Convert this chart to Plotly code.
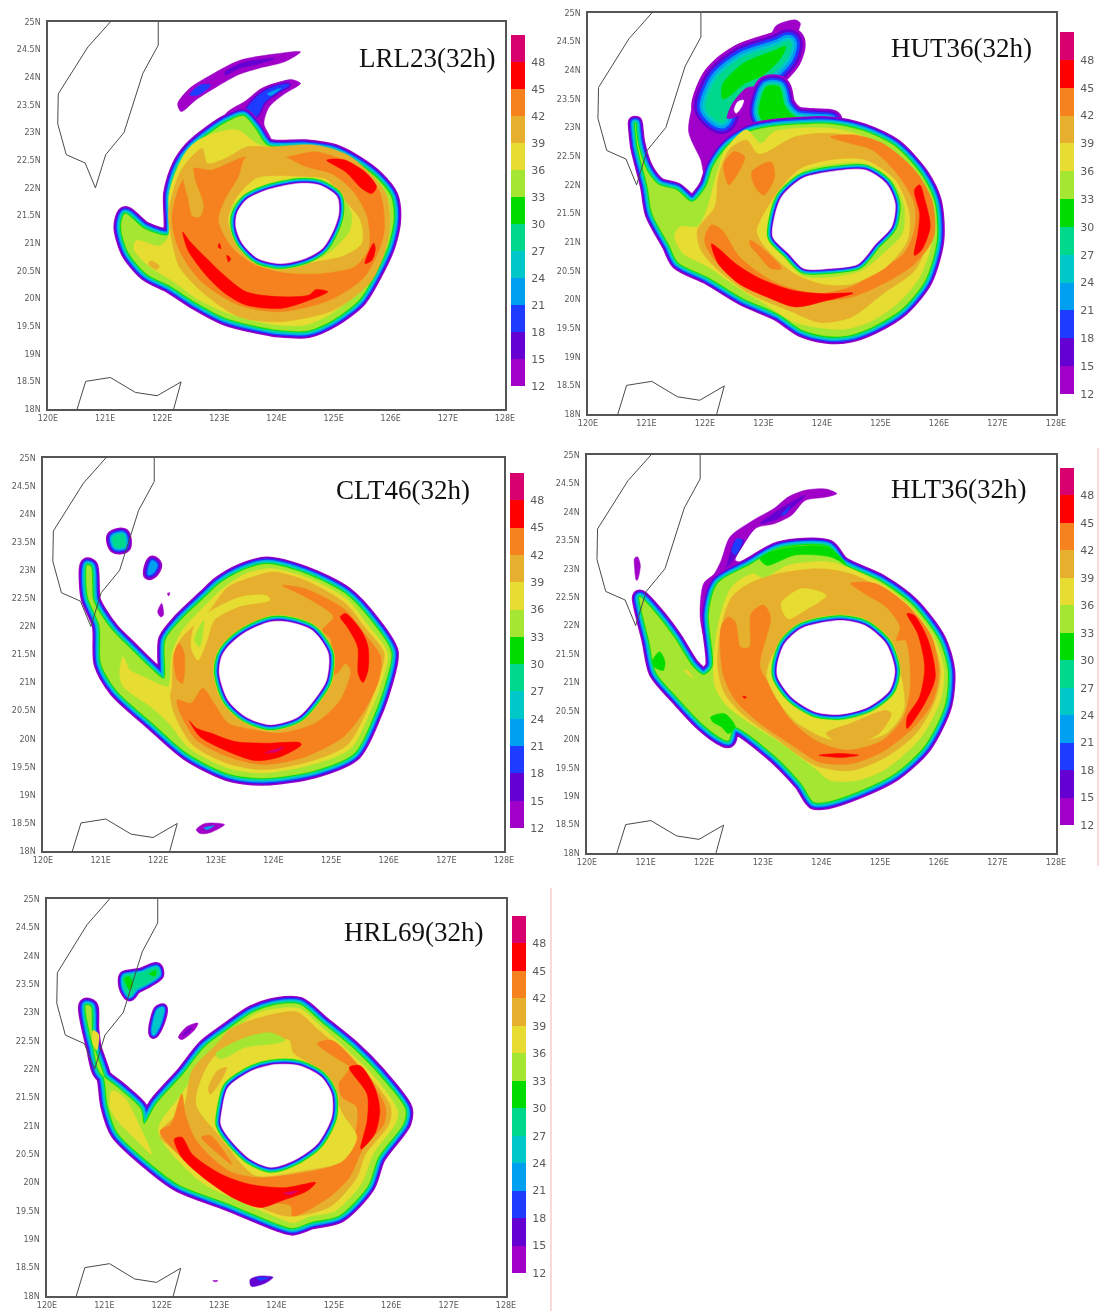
import plotly.graph_objects as go

W, H = 1099, 1311

LEVELS = [12, 15, 18, 21, 24, 27, 30, 33, 36, 39, 42, 45, 48]
COLORS = ["#a000c8", "#6400d2", "#1e3cff", "#00a0f0", "#00c8c8", "#00d88c", "#00dc00",
          "#a5e632", "#e6dc32", "#e6af2d", "#f5821e", "#ff0000", "#d8006e"]
LON_TICKS = [120, 121, 122, 123, 124, 125, 126, 127, 128]
LON_LABELS = ["120E", "121E", "122E", "123E", "124E", "125E", "126E", "127E", "128E"]
LAT_TICKS = [18, 18.5, 19, 19.5, 20, 20.5, 21, 21.5, 22, 22.5, 23, 23.5, 24, 24.5, 25]
LAT_LABELS = ["18N", "18.5N", "19N", "19.5N", "20N", "20.5N", "21N", "21.5N", "22N", "22.5N",
              "23N", "23.5N", "24N", "24.5N", "25N"]

TAIWAN = [(121.09, 25), (120.7, 24.55), (120.18, 23.7), (120.17, 23.16), (120.32, 22.6), (120.65, 22.45),
          (120.83, 22.0), (121.01, 22.6), (121.33, 23.0), (121.66, 24.07), (121.93, 24.58), (121.93, 25)]
LUZON = [(120.51, 18), (120.66, 18.5), (121.09, 18.57), (121.53, 18.3), (121.91, 18.24), (122.33, 18.49), (122.2, 18)]

# ---------- LRL23 ----------
L_streak = [(122.27,23.52),(122.48,23.8),(122.85,24.04),(123.34,24.3),(123.96,24.42),(124.42,24.46),(124.14,24.28),(123.71,24.17),(123.34,24.05),(122.97,23.84),(122.6,23.6),(122.33,23.38)]
L_streak_a = [(123.1,24.1),(123.47,24.28),(123.96,24.34),(123.71,24.25),(123.34,24.16),(123.1,24.04)]
L_streak_b = [(122.48,23.68),(122.66,23.86),(122.85,23.86),(122.63,23.68)]
L_spur = [(123.1,23.31),(123.47,23.58),(123.74,23.8),(124.08,23.92),(124.26,23.96),(124.42,23.89),(124.14,23.7),(123.87,23.46),(123.78,23.16),(123.9,22.86),(123.47,22.86)]
L_spur_b = [(123.48,23.36),(123.62,23.58),(123.9,23.78),(124.2,23.86),(124.05,23.78),(123.76,23.55),(123.64,23.32)]
L_spur_c = [(123.84,23.7),(124.08,23.8),(123.9,23.67)]
L_core = [(123.42,23.30),(123.62,23.08),(123.85,22.76),(124.5,22.74),(125.0,22.66),(125.4,22.45),(125.75,22.18),(126.0,21.85),(126.05,21.45),(125.95,20.95),(125.75,20.5),(125.45,19.98),(125.0,19.62),(124.55,19.42),(124.05,19.43),(123.65,19.5),(123.1,19.65),(122.6,19.92),(122.15,20.22),(121.72,20.45),(121.4,20.85),(121.28,21.3),(121.35,21.53),(121.7,21.25),(122.12,21.15),(122.15,21.9),(122.3,22.4),(122.5,22.7),(122.85,23.0),(123.15,23.2)]
L_36 = [(122.7,22.9),(123.3,23.05),(123.7,22.78),(124.5,22.68),(125.0,22.6),(125.4,22.38),(125.7,22.12),(125.95,21.8),(125.98,21.45),(125.88,20.95),(125.68,20.5),(125.35,20.05),(124.95,19.72),(124.5,19.52),(124.0,19.52),(123.6,19.6),(123.1,19.75),(122.6,20.0),(122.2,20.3),(121.75,20.6),(121.5,20.9),(121.55,21.05),(121.95,20.95),(122.1,21.1),(122.12,21.9),(122.28,22.4),(122.45,22.7)]
L_39 = [(122.7,22.71),(122.79,22.44),(123.16,22.56),(123.47,22.74),(123.89,22.74),(124.69,22.77),(125.3,22.56),(125.91,21.9),(125.97,21.17),(125.67,20.33),(125.0,19.79),(124.07,19.58),(123.34,19.67),(122.73,20.09),(122.3,20.57),(122.17,21.05),(122.11,21.54),(122.3,22.26),(122.51,22.56)]
L_spot = [(121.8,20.68),(121.95,20.58),(121.9,20.52),(121.76,20.62)]
L_42 = [(124.2,22.56),(124.69,22.65),(125.3,22.44),(125.79,21.96),(125.88,21.17),(125.54,20.39),(124.93,19.97),(124.07,19.76),(123.34,19.88),(122.66,20.33),(122.3,20.87),(122.17,21.42),(122.3,22.02),(122.54,22.35),(122.85,22.32),(123.46,22.56),(123.9,22.5)]
L_in39 = [(123.47,22.56),(124.13,22.56),(124.5,22.38),(125.0,22.23),(125.34,21.93),(125.58,21.48),(125.61,20.91),(125.37,20.58),(124.69,20.45),(124.08,20.48),(123.59,20.63),(123.22,20.93),(122.99,21.41),(123.1,21.78),(123.34,22.2)]
L_left39 = [(122.53,22.35),(122.57,22.15),(122.72,21.68),(122.66,21.48),(122.53,21.49),(122.46,21.79),(122.38,22.2)]
L_in36 = [(123.65,22.17),(124.39,22.2),(124.88,22.14),(125.12,21.84),(125.46,21.42),(125.49,21.0),(125.18,20.78),(124.69,20.67),(124.08,20.58),(123.71,20.63),(123.34,20.93),(123.16,21.41),(123.28,21.78)]
L_in33 = [(123.4,21.84),(123.83,22.05),(124.39,22.17),(124.88,22.11),(125.15,21.84),(125.31,21.53),(125.28,21.23),(125.0,20.9),(124.69,20.69),(124.08,20.58),(123.68,20.66),(123.34,20.93),(123.19,21.29),(123.22,21.66)]
L_red1 = [(122.36,21.2),(122.45,20.87),(122.79,20.39),(123.1,20.09),(123.47,19.88),(124.08,19.82),(124.5,19.94),(124.9,20.12),(124.69,20.16),(124.57,20.06),(124.08,20.03),(123.47,20.12),(123.05,20.45),(122.78,20.72),(122.47,21.05)]
L_red2 = [(124.88,22.5),(125.18,22.51),(125.55,22.29),(125.75,22.02),(125.67,21.9),(125.49,21.99),(125.21,22.29)]
L_red3 = [(125.55,20.63),(125.7,21.0),(125.73,20.9),(125.67,20.69)]
L_red4 = [(123.0,21.0),(122.98,20.93),(123.03,20.9)]
L_red5 = [(123.13,20.78),(123.2,20.72),(123.16,20.66)]
L_eye = [(123.31,21.54),(123.47,21.78),(123.83,21.96),(124.39,22.08),(124.75,22.05),(125.06,21.84),(125.09,21.54),(125.0,21.24),(124.81,20.91),(124.5,20.72),(124.08,20.63),(123.68,20.72),(123.4,21.0),(123.29,21.29)]
LRL23_OPS = [("fill",12,L_streak),("fill",15,L_streak_a),("fill",18,L_streak_b),("fill",12,L_spur),("halo",18,L_spur_b,1.6),("fill",18,L_spur_b),("fill",21,L_spur_c),
             ("halo",30,L_core,1.1),("fill",33,L_core),("fill",36,L_36),("fill",39,L_39),("fill",39,L_spot),("fill",42,L_42),("fill",39,L_in39),("fill",39,L_left39),
             ("fill",36,L_in36),("fill",33,L_in33),("fill",45,L_red1),("fill",45,L_red2),("fill",45,L_red3),("fill",45,L_red4),("fill",45,L_red5),("eye",L_eye)]

# ---------- HUT36 ----------
U_blob = [(123.1,24.59),(123.22,24.78),(123.54,24.88),(123.63,24.82),(123.57,24.59),(123.63,24.39),(123.49,24.1),(123.34,23.92),(123.43,23.42),(123.54,23.25),(123.07,22.9),(122.35,22.78),(122.17,22.43),(121.99,22.2),(121.93,22.43),(121.72,22.93),(121.81,23.48),(121.93,23.86),(122.23,24.24),(122.71,24.5)]
U_green = [(122.05,23.37),(122.23,23.83),(122.65,24.18),(123.25,24.39),(123.43,24.47),(123.37,24.24),(123.07,23.92),(122.71,23.72),(122.41,23.42),(122.29,23.13),(122.11,23.25)]
U_green_c = [(122.3,23.75),(122.65,24.12),(123.2,24.35),(123.38,24.42),(123.3,24.22),(123.0,23.92),(122.65,23.75),(122.42,23.55),(122.3,23.5)]
U_green2 = [(123.07,23.69),(123.25,23.69),(123.34,23.37),(123.54,23.16),(124.14,23.1),(123.54,23.02),(123.13,22.99),(122.95,23.25)]
U_hole = [(122.38,23.16),(122.47,23.42),(122.71,23.69),(122.86,23.7),(122.81,23.48),(122.59,23.22)]
U_white = [(122.5,23.31),(122.56,23.45),(122.66,23.48),(122.63,23.37),(122.53,23.25)]
U_core = [(120.81,23.07),(120.85,22.72),(121.0,22.26),(121.21,22.0),(121.51,21.91),(121.78,21.7),(122.02,21.97),(122.14,22.32),(122.38,22.67),(122.77,22.93),(123.19,23.02),(124.14,23.06),(124.71,22.94),(125.25,22.67),(125.7,22.17),(125.92,21.7),(125.96,21.03),(125.76,20.33),(125.37,19.84),(124.86,19.52),(124.44,19.37),(124.08,19.36),(123.66,19.47),(123.25,19.75),(122.65,20.02),(122.05,20.39),(121.54,20.65),(121.39,20.95),(121.1,21.5),(121.02,21.97),(120.85,22.67)]
U_36 = [(121.87,21.27),(122.05,21.62),(122.17,22.08),(122.35,22.61),(122.71,22.96),(122.95,22.72),(123.19,22.93),(124.14,22.99),(124.74,22.84),(125.25,22.52),(125.64,22.08),(125.85,21.62),(125.88,21.03),(125.67,20.39),(125.28,19.92),(124.8,19.6),(124.44,19.49),(124.08,19.49),(123.54,19.6),(123.07,19.89),(122.59,20.19),(122.05,20.57),(121.63,20.8),(121.48,21.09),(121.57,21.27)]
U_39 = [(121.87,21.21),(122.17,21.62),(122.23,22.14),(122.41,22.61),(122.71,22.78),(122.89,22.55),(123.01,22.55),(123.54,22.84),(124.14,22.9),(124.74,22.78),(125.22,22.43),(125.58,22.02),(125.76,21.5),(125.79,20.97),(125.58,20.5),(125.04,20.1),(124.5,19.69),(123.96,19.6),(123.43,19.81),(122.77,20.1),(122.23,20.51),(121.93,20.86)]
U_in36 = [(122.89,21.21),(123.19,21.79),(123.6,22.26),(124.14,22.43),(124.74,22.43),(125.25,22.08),(125.49,21.5),(125.46,21.03),(125.1,20.57),(124.5,20.27),(124.02,20.27),(123.54,20.45),(123.19,20.74),(122.95,21.03)]
U_in33 = [(123.1,21.21),(123.25,21.85),(123.66,22.23),(124.14,22.35),(124.74,22.37),(125.19,22.08),(125.4,21.62),(125.37,21.15),(125.04,20.8),(124.68,20.51),(124.14,20.39),(123.66,20.42),(123.34,20.74),(123.1,21.03)]
U_42 = [(124.14,22.84),(124.56,22.87),(125.04,22.72),(125.58,22.26),(125.88,21.73),(125.91,21.09),(125.58,20.62),(125.04,20.27),(124.5,20.04),(124.02,19.98),(123.25,19.98),(122.59,20.27),(122.17,20.68),(121.99,21.03),(122.11,21.3),(122.29,21.21),(122.59,20.74),(123.19,20.3),(123.9,20.1),(124.5,20.22),(124.98,20.51),(125.4,20.8),(125.58,21.21),(125.58,21.67),(125.28,22.2),(124.86,22.61),(124.5,22.72)]
U_p1 = [(122.32,22.37),(122.5,22.58),(122.68,22.49),(122.62,22.31),(122.41,22.0)]
U_p2 = [(122.8,22.23),(123.13,22.4),(123.19,22.14),(123.01,21.82),(122.86,21.96)]
U_p3 = [(122.77,21.03),(122.95,20.92),(123.31,20.54),(123.13,20.54),(122.89,20.8),(122.77,20.95)]
U_red1 = [(122.11,20.97),(122.23,20.62),(122.59,20.27),(123.07,20.04),(123.54,19.87),(124.08,19.98),(124.53,20.11),(124.02,20.1),(123.49,20.16),(122.95,20.36),(122.53,20.62),(122.23,20.89)]
U_red2 = [(125.58,21.91),(125.67,22.0),(125.76,21.73),(125.85,21.27),(125.7,20.86),(125.58,20.77),(125.64,21.15),(125.67,21.5)]
U_eye = [(123.19,21.44),(123.31,21.79),(123.66,22.11),(124.14,22.23),(124.74,22.26),(125.1,22.02),(125.25,21.67),(125.19,21.27),(124.92,20.97),(124.62,20.62),(124.14,20.54),(123.69,20.54),(123.43,20.8),(123.16,21.09)]
HUT36_OPS = [("fill",12,U_blob),("halo",27,U_green,2.8),("fill",27,U_green),("fill",30,U_green_c),("fill",12,U_hole),("white",U_white),("halo",30,U_green2,1.8),("fill",30,U_green2),
             ("halo",30,U_core,1.1),("fill",33,U_core),("fill",36,U_36),("fill",39,U_39),("fill",42,U_42),("fill",42,U_p1),("fill",36,U_in36),("fill",42,U_p2),("fill",42,U_p3),("fill",33,U_in33),
             ("fill",45,U_red1),("fill",45,U_red2),("eye",U_eye)]

# ---------- CLT46 ----------
C_b1 = [(121.23,23.58),(121.38,23.62),(121.4,23.44),(121.27,23.43)]
C_b2c = [(121.84,22.94),(121.9,23.15),(121.96,23.09),(121.9,22.97)]
C_b3 = [(121.99,22.26),(122.06,22.41),(122.09,22.2),(122.04,22.17)]
C_b4 = [(122.16,22.59),(122.2,22.6),(122.18,22.54)]
C_b5 = [(122.66,18.38),(122.81,18.49),(123.15,18.47),(122.91,18.33),(122.73,18.31)]
C_b5c = [(122.79,18.41),(122.97,18.45),(122.85,18.38)]
C_core = [(120.77,23.09),(120.83,23.06),(120.87,22.47),(120.99,22.23),(121.2,21.93),(121.51,21.61),(121.87,21.25),(122.1,21.07),(122.13,21.76),(122.39,22.11),(122.82,22.53),(123.06,22.76),(123.45,22.99),(123.88,23.11),(124.55,22.94),(125.25,22.58),(125.71,22.08),(126.04,21.54),(125.93,20.96),(125.75,20.44),(125.4,19.74),(124.7,19.43),(123.82,19.3),(123.21,19.38),(122.51,19.74),(121.9,20.28),(121.27,20.87),(121.01,21.34),(120.98,22.02),(120.78,22.53)]
C_36 = [(122.18,20.93),(122.24,21.52),(122.42,21.93),(122.85,22.41),(123.15,22.7),(123.52,22.94),(123.94,23.03),(124.55,22.88),(125.25,22.5),(125.64,22.02),(125.98,21.52),(125.86,20.96),(125.67,20.46),(125.34,19.83),(124.67,19.54),(123.82,19.39),(123.21,19.48),(122.54,19.83),(122.18,20.28),(121.87,20.57),(121.39,20.93),(121.33,21.16),(121.39,21.46),(121.51,21.22),(121.75,21.1),(122.12,20.93)]
C_39 = [(122.24,20.93),(122.27,21.52),(122.42,21.81),(122.85,22.23),(123.21,22.7),(123.64,22.88),(124.0,22.97),(124.55,22.82),(125.25,22.41),(125.58,21.99),(125.92,21.52),(125.8,20.99),(125.61,20.48),(125.28,19.89),(124.61,19.59),(123.82,19.45),(123.21,19.56),(122.6,19.89),(122.3,20.39),(122.21,20.75)]
C_42 = [(124.15,22.73),(124.55,22.67),(125.25,22.29),(125.58,21.87),(125.86,21.46),(125.83,21.05),(125.58,20.51),(125.22,20.04),(124.55,19.68),(123.82,19.54),(123.21,19.68),(122.66,19.98),(122.36,20.51),(122.33,20.69),(122.57,20.63),(122.77,20.9),(122.97,20.63),(123.21,20.28),(123.64,20.16),(124.12,20.1),(124.73,20.28),(125.16,20.69),(125.34,21.22),(125.25,21.34),(125.1,21.16),(124.95,21.13),(125.0,21.76),(124.85,21.93),(125.04,22.17),(124.55,22.53)]
C_42l = [(122.36,21.7),(122.45,21.52),(122.42,20.99),(122.33,21.05),(122.27,21.46)]
C_in36 = [(122.57,21.64),(122.66,22.08),(123.15,22.41),(123.45,22.53),(123.88,22.55),(123.94,22.47),(123.39,22.35),(122.97,22.11),(122.85,21.76),(122.69,21.4)]
C_in33 = [(122.63,21.76),(122.79,22.11),(122.72,21.64)]
C_red1 = [(122.54,20.32),(122.72,20.04),(123.15,19.8),(123.69,19.61),(124.12,19.68),(124.48,19.89),(124.46,19.93),(123.88,19.92),(123.33,19.95),(122.91,20.1),(122.66,20.19)]
C_red2 = [(125.16,22.17),(125.25,22.23),(125.52,21.93),(125.64,21.64),(125.64,21.22),(125.55,21.0),(125.47,21.16),(125.46,21.64),(125.28,21.99)]
C_mag = [(123.85,19.75),(124.18,19.85),(124.06,19.77)]
C_eye = [(123.1,21.46),(123.21,21.64),(123.52,21.9),(123.94,22.08),(124.25,22.08),(124.67,21.93),(124.95,21.52),(124.92,21.05),(124.79,20.81),(124.43,20.39),(123.94,20.25),(123.52,20.39),(123.21,20.69),(123.06,21.16)]
CLT46_OPS = [("halo",27,C_b1,1.3),("fill",27,C_b1),("halo",21,C_b2c,1.6),("fill",21,C_b2c),("fill",12,C_b3),("fill",12,C_b4),("fill",12,C_b5),("fill",21,C_b5c),
             ("halo",30,C_core,1.1),("fill",33,C_core),("fill",36,C_36),("fill",39,C_39),("fill",42,C_42),("fill",42,C_42l),("fill",36,C_in36),("fill",33,C_in33),
             ("fill",45,C_red1),("fill",45,C_red2),("fill",48,C_mag),("eye",C_eye)]

# ---------- HLT36 ----------
T_streak = [(124.26,24.32),(124.08,24.26),(123.72,24.2),(123.49,23.94),(123.19,23.79),(122.89,23.72),(122.68,23.44),(122.53,23.15),(122.68,23.09),(122.29,22.8),(122.17,22.5),(122.02,21.74),(121.93,22.15),(121.99,22.74),(122.17,22.91),(122.29,23.15),(122.44,23.56),(122.83,23.85),(123.19,24.06),(123.43,24.26),(123.72,24.38),(124.08,24.4)]
T_s15a = [(122.95,23.79),(123.31,24.06),(123.72,24.29),(123.55,24.12),(123.25,23.88)]
T_s15b = [(122.35,22.91),(122.53,23.5),(122.68,23.5),(122.53,23.2),(122.35,22.97)]
T_s18a = [(122.47,23.32),(122.56,23.53),(122.65,23.5),(122.53,23.24)]
T_s18b = [(123.31,23.94),(123.46,24.1),(123.4,23.97)]
T_arm = [(120.81,23.18),(120.86,23.21),(120.91,23.06),(120.86,22.8),(120.84,22.8),(120.81,23.04)]
T_core = [(120.9,22.5),(121.15,22.24),(121.48,21.8),(121.81,21.27),(121.99,21.13),(122.14,21.27),(122.08,22.21),(122.23,22.74),(122.77,23.06),(123.28,23.35),(124.11,23.38),(124.35,23.09),(125.01,22.77),(125.55,22.36),(126.0,21.74),(126.15,21.21),(126.1,20.6),(125.76,19.89),(125.25,19.4),(124.59,19.07),(124.08,18.9),(123.87,18.9),(123.66,19.22),(123.16,19.75),(122.5,20.22),(122.41,19.98),(122.26,20.04),(121.96,20.28),(121.54,20.74),(121.18,21.18),(121.06,21.74),(120.92,22.33)]
T_g1 = [(121.12,21.39),(121.24,21.54),(121.33,21.36),(121.3,21.21),(121.15,21.27)]
T_g2 = [(122.95,23.18),(123.31,23.35),(124.11,23.38),(124.41,23.09),(124.14,23.21),(123.55,23.24),(123.07,23.06)]
T_g3 = [(122.11,20.39),(122.35,20.45),(122.53,20.22),(122.41,20.1),(122.29,20.22),(122.14,20.31)]
T_36 = [(122.17,20.98),(122.23,21.98),(122.47,22.68),(122.83,22.91),(123.01,22.83),(123.43,23.06),(124.14,23.12),(124.5,23.0),(125.1,22.68),(125.58,22.27),(125.94,21.74),(126.09,21.21),(126.03,20.69),(125.7,20.04),(125.1,19.48),(124.62,19.28),(124.14,19.28),(123.9,19.48),(123.25,19.98),(122.71,20.33),(122.35,20.63)]
T_spot = [(121.66,21.21),(121.81,21.07),(121.72,21.21)]
T_39 = [(122.23,21.27),(122.29,21.98),(122.47,22.5),(122.77,22.74),(123.25,22.91),(123.96,23.0),(124.5,22.91),(125.1,22.59),(125.55,22.18),(125.88,21.74),(126.03,21.21),(125.94,20.69),(125.61,20.1),(125.1,19.69),(124.5,19.45),(123.9,19.54),(123.19,20.04),(122.71,20.39),(122.35,20.8)]
T_42 = [(124.5,22.74),(124.92,22.74),(125.46,22.36),(125.88,21.8),(126.0,21.15),(125.88,20.63),(125.58,20.22),(125.04,19.78),(124.5,19.57),(123.96,19.6),(123.54,19.87),(122.95,20.28),(122.53,20.69),(122.32,21.15),(122.29,21.98),(122.41,22.15),(122.53,22.06),(122.62,21.62),(122.77,21.62),(122.8,22.21),(123.01,22.36),(123.13,22.15),(122.95,21.27),(123.19,20.86),(123.43,20.39),(123.9,19.98),(124.44,19.81),(125.04,19.98),(125.4,20.39),(125.52,20.98),(125.43,21.74),(125.28,21.74),(125.34,21.98),(125.1,22.33),(124.74,22.56)]
T_up36 = [(123.31,22.39),(123.67,22.65),(124.08,22.53),(123.72,22.27),(123.43,22.12)]
T_in36 = [(123.13,21.39),(123.49,21.92),(124.32,22.12),(124.86,21.98),(125.19,21.51),(125.37,21.04),(125.4,20.51),(125.1,20.1),(124.5,19.95),(124.02,20.04),(123.54,20.33),(123.25,20.69),(123.07,21.1)]
T_in39 = [(124.08,20.1),(124.5,20.28),(125.1,20.51),(125.19,20.45),(124.98,20.1),(124.44,19.89)]
T_red1 = [(125.46,22.21),(125.58,22.18),(125.82,21.74),(125.94,21.09),(125.76,20.63),(125.46,20.19),(125.46,20.39),(125.67,20.74),(125.76,21.27),(125.64,21.86)]
T_red2 = [(123.96,19.72),(124.32,19.75),(124.63,19.72),(124.32,19.68)]
T_red3 = [(122.66,20.76),(122.72,20.74),(122.68,20.72)]
T_eye = [(123.25,21.33),(123.37,21.68),(123.66,21.95),(124.32,22.09),(124.74,22.0),(125.1,21.68),(125.25,21.21),(125.16,20.86),(124.8,20.57),(124.32,20.44),(123.9,20.48),(123.49,20.74),(123.25,21.1)]
HLT36_OPS = [("fill",12,T_streak),("fill",15,T_s15a),("fill",15,T_s15b),("fill",18,T_s18a),("fill",18,T_s18b),("fill",12,T_arm),
             ("halo",30,T_core,1.1),("fill",33,T_core),("fill",30,T_g1),("fill",30,T_g2),("fill",30,T_g3),("fill",36,T_36),("fill",36,T_spot),("fill",39,T_39),("fill",42,T_42),
             ("fill",36,T_up36),("fill",36,T_in36),("fill",39,T_in39),("fill",45,T_red1),("fill",45,T_red2),("fill",45,T_red3),("eye",T_eye)]

# ---------- HRL69 ----------
R_b1c = [(121.35,23.63),(121.5,23.66),(121.66,23.69),(121.91,23.78),(121.94,23.67),(121.76,23.54),(121.54,23.42),(121.44,23.3),(121.35,23.45)]
R_b1g = [(121.35,23.6),(121.44,23.63),(121.5,23.5),(121.44,23.4)]
R_b1h = [(121.78,23.68),(121.9,23.74),(121.88,23.64)]
R_b2c = [(121.85,22.71),(121.94,23.04),(122.02,23.07),(121.96,22.8),(121.86,22.62)]
R_b3 = [(122.29,22.56),(122.44,22.75),(122.63,22.81),(122.57,22.69),(122.35,22.52)]
R_b3c = [(122.36,22.6),(122.52,22.74),(122.44,22.63)]
R_b4 = [(123.54,18.29),(123.69,18.35),(123.94,18.33),(123.81,18.23),(123.56,18.17)]
R_b4c = [(123.65,18.32),(123.87,18.32),(123.72,18.27)]
R_b5 = [(122.89,18.27),(122.98,18.27),(122.93,18.25)]
R_core = [(120.68,23.12),(120.76,23.1),(120.78,22.68),(120.92,21.95),(121.26,21.65),(121.63,21.3),(121.69,21.03),(121.91,21.39),(122.38,21.92),(122.75,22.39),(123.13,22.68),(123.59,23.0),(124.03,23.14),(124.4,23.14),(124.81,22.8),(125.31,22.39),(125.77,21.92),(126.24,21.3),(126.22,21.06),(125.77,20.44),(125.59,19.94),(125.09,19.42),(124.62,19.31),(124.28,19.2),(124.03,19.27),(123.16,19.63),(122.29,19.97),(121.76,20.37),(121.23,20.88),(121.06,21.36),(121.0,21.83),(120.78,22.51)]
R_tail = [(121.13,21.62),(121.35,21.5),(121.6,21.03),(121.82,20.5),(121.57,20.74),(121.23,21.09),(121.1,21.33)]
R_arm = [(120.8,22.68),(120.9,22.62),(120.87,22.33),(120.8,22.45)]
R_36 = [(121.94,20.91),(122.35,21.56),(122.85,22.27),(123.16,22.59),(123.65,22.98),(124.03,23.07),(124.4,23.07),(124.78,22.75),(125.27,22.3),(125.71,21.86),(126.11,21.27),(126.08,21.06),(125.68,20.5),(125.49,20.0),(125.02,19.5),(124.59,19.41),(124.28,19.29),(124.03,19.38),(123.34,19.68),(122.66,20.03)]
R_39 = [(122.0,20.94),(122.38,21.33),(122.53,21.98),(122.97,22.45),(123.16,22.68),(123.65,22.89),(124.34,23.01),(124.71,22.71),(125.15,22.33),(125.65,21.83),(125.99,21.33),(125.96,21.03),(125.55,20.5),(125.4,20.09),(124.96,19.59),(124.53,19.44),(124.15,19.41),(123.47,19.68),(122.66,20.15),(122.16,20.62),(121.97,20.8)]
R_42 = [(124.71,22.45),(124.96,22.51),(125.46,22.03),(125.9,21.33),(125.87,21.03),(125.52,20.62),(125.27,20.09),(124.9,19.73),(124.28,19.41),(124.25,19.59),(123.53,19.68),(122.85,20.09),(122.29,20.5),(121.97,20.91),(122.16,21.03),(122.35,21.56),(122.41,21.21),(122.6,20.74),(123.16,20.21),(123.65,20.09),(124.34,20.15),(125.09,20.35),(125.34,20.74),(125.4,21.33),(125.15,21.5),(125.09,21.74),(125.27,22.03),(125.02,22.21)]
R_in36 = [(122.91,22.21),(123.65,22.45),(124.22,22.51),(124.28,22.3),(124.65,22.03),(125.02,21.5),(125.15,21.21),(125.4,20.8),(125.15,20.38),(124.46,20.21),(123.65,20.12),(123.4,20.32),(123.03,20.8),(122.6,21.39)]
R_in33 = [(122.94,22.27),(123.47,22.56),(123.9,22.64),(124.15,22.51),(123.97,22.45),(123.47,22.39),(123.03,22.18)]
R_p39 = [(122.81,21.65),(122.97,21.97),(123.13,22.03),(123.03,21.8),(122.85,21.56)]
R_lobe = [(122.69,20.8),(122.85,20.83),(123.22,20.32),(123.03,20.47)]
R_red1 = [(122.22,20.77),(122.35,20.8),(122.53,20.5),(123.03,20.15),(123.53,19.97),(124.15,19.91),(124.68,20.0),(124.53,19.85),(124.09,19.68),(123.72,19.56),(123.28,19.71),(122.72,20.09),(122.35,20.44)]
R_red2 = [(125.27,22.03),(125.46,22.06),(125.71,21.68),(125.8,21.27),(125.71,20.85),(125.47,20.59),(125.58,21.09),(125.58,21.56)]
R_mag = [(124.12,19.81),(124.37,19.85),(124.25,19.79)]
R_eye = [(123.05,21.27),(123.16,21.68),(123.59,21.98),(123.97,22.08),(124.4,22.06),(124.78,21.86),(124.96,21.56),(124.96,21.15),(124.71,20.68),(124.28,20.38),(123.9,20.27),(123.53,20.42),(123.16,20.8),(123.03,21.03)]
HRL69_OPS = [("halo",27,R_b1c,1.0),("fill",27,R_b1c),("fill",30,R_b1g),("fill",30,R_b1h),("halo",24,R_b2c,1.0),("fill",24,R_b2c),("fill",12,R_b3),("fill",15,R_b3c),("fill",15,R_b4),("fill",18,R_b4c),("fill",12,R_b5),
             ("halo",30,R_core,1.1),("fill",33,R_core),("fill",36,R_tail),("fill",36,R_arm),("fill",36,R_36),("fill",39,R_39),("fill",42,R_42),("fill",36,R_in36),("fill",33,R_in33),("fill",39,R_p39),("fill",42,R_lobe),
             ("fill",45,R_red1),("fill",45,R_red2),("fill",48,R_mag),("eye",R_eye)]

PANELS = [
    dict(name="LRL23(32h)", ops=LRL23_OPS, box=(48, 505, 22, 409), bar=(511, 525, 35, 386), title=(357, 58)),
    dict(name="HUT36(32h)", ops=HUT36_OPS, box=(588, 1056, 13, 414), bar=(1060, 1074, 32, 394), title=(889, 48)),
    dict(name="CLT46(32h)", ops=CLT46_OPS, box=(43, 504, 458, 851), bar=(510, 524, 473, 828), title=(334, 490)),
    dict(name="HLT36(32h)", ops=HLT36_OPS, box=(587, 1056, 455, 853), bar=(1060, 1074, 468, 825), title=(889, 489)),
    dict(name="HRL69(32h)", ops=HRL69_OPS, box=(47, 506, 899, 1296), bar=(512, 526, 916, 1273), title=(342, 932)),
]

fig = go.Figure()
TEXT = "#5a5a5a"
FRAME = "#555555"


def color(level):
    return COLORS[LEVELS.index(level)]


def closed(poly):
    return [p[0] for p in poly] + [poly[0][0]], [p[1] for p in poly] + [poly[0][1]]


def stroke(poly, col, width, xa, ya):
    x, y = closed(poly)
    fig.add_trace(go.Scatter(x=x, y=y, mode="lines", xaxis=xa, yaxis=ya, hoverinfo="skip", showlegend=False,
                             line=dict(color=col, width=width, shape="spline", smoothing=0.8)))


def fill(poly, col, xa, ya):
    x, y = closed(poly)
    fig.add_trace(go.Scatter(x=x, y=y, mode="lines", fill="toself", fillcolor=col, xaxis=xa, yaxis=ya,
                             hoverinfo="skip", showlegend=False,
                             line=dict(color=col, width=0.5, shape="spline", smoothing=0.8)))


for i, p in enumerate(PANELS):
    n = 2 * i + 1
    xa, ya = f"x{n}", f"y{n}"
    xb, yb = f"x{n + 1}", f"y{n + 1}"
    for op in p["ops"]:
        if op[0] == "fill":
            fill(op[2], color(op[1]), xa, ya)
        elif op[0] == "white":
            fill(op[1], "#ffffff", xa, ya)
        elif op[0] == "halo":
            used = [v for v in LEVELS if v <= op[1]]
            for k, v in enumerate(used):
                stroke(op[2], color(v), 2 * op[3] * (len(used) - k), xa, ya)
        elif op[0] == "eye":
            used = [v for v in LEVELS if v <= 33]
            for k, v in reversed(list(enumerate(used))):
                stroke(op[1], color(v), 1.5 * (k + 1), xa, ya)
            fill(op[1], "#ffffff", xa, ya)
    for coast in (TAIWAN, LUZON):
        fig.add_trace(go.Scatter(x=[c[0] for c in coast], y=[c[1] for c in coast], mode="lines", xaxis=xa, yaxis=ya,
                                 hoverinfo="skip", showlegend=False, line=dict(color="#4a4a4a", width=1)))
    for lev, col in zip(LEVELS, COLORS):
        fig.add_trace(go.Bar(x=[0.5], y=[3], base=[lev], width=[1], xaxis=xb, yaxis=yb, hoverinfo="skip",
                             showlegend=False, marker=dict(color=col, line=dict(width=0))))

    x0, x1, y0, y1 = p["box"]
    bx0, bx1, by0, by1 = p["bar"]
    suffix = "" if n == 1 else str(n)
    fig.layout["xaxis" + suffix] = dict(domain=[x0 / W, x1 / W], range=[120, 128], anchor=ya, tickvals=LON_TICKS,
                                        ticktext=LON_LABELS, ticks="outside", ticklen=1,
                                        tickcolor="rgba(0,0,0,0)", showgrid=False, zeroline=False, showline=True,
                                        mirror=True, linecolor=FRAME, linewidth=1.5,
                                        tickfont=dict(family="DejaVu Sans", size=8, color=TEXT))
    fig.layout["yaxis" + suffix] = dict(domain=[1 - y1 / H, 1 - y0 / H], range=[18, 25], anchor=xa, tickvals=LAT_TICKS,
                                        ticktext=LAT_LABELS, ticks="outside", ticklen=4,
                                        tickcolor="rgba(0,0,0,0)", showgrid=False, zeroline=False, showline=True,
                                        mirror=True, linecolor=FRAME, linewidth=1.5,
                                        tickfont=dict(family="DejaVu Sans", size=8, color=TEXT))
    fig.layout[f"xaxis{n + 1}"] = dict(domain=[bx0 / W, bx1 / W], range=[0, 1], anchor=yb, visible=False)
    fig.layout[f"yaxis{n + 1}"] = dict(domain=[1 - by1 / H, 1 - by0 / H], range=[12, 51], anchor=xb, side="right",
                                       tickvals=LEVELS, ticktext=[str(v) for v in LEVELS], showgrid=False,
                                       zeroline=False, showline=False, ticks="outside", ticklen=3,
                                       tickcolor="rgba(0,0,0,0)",
                                       tickfont=dict(family="DejaVu Sans", size=11, color=TEXT))
    fig.add_annotation(text=p["name"], xref="paper", yref="paper", x=p["title"][0] / W, y=1 - p["title"][1] / H,
                       xanchor="left", yanchor="middle", showarrow=False,
                       font=dict(family="Liberation Serif", size=27, color="#111111"))

fig.add_shape(type="line", xref="paper", yref="paper", x0=1098 / W, x1=1098 / W, y0=1 - 866 / H, y1=1 - 448 / H,
              line=dict(color="#f2b5b5", width=1))
fig.add_shape(type="line", xref="paper", yref="paper", x0=551 / W, x1=551 / W, y0=0, y1=1 - 888 / H,
              line=dict(color="#f2b5b5", width=1))

fig.update_layout(width=W, height=H, margin=dict(l=0, r=0, t=0, b=0, autoexpand=False), paper_bgcolor="white",
                  plot_bgcolor="white", barmode="overlay", bargap=0, showlegend=False)
fig.write_html("out.html", config={"displayModeBar": False},
               post_script="document.body.style.margin='0';document.body.style.overflow='hidden';"
                           "var s=document.createElement('style');s.textContent='.cartesianlayer{filter:blur(0.7px);}';"
                           "document.head.appendChild(s);")
